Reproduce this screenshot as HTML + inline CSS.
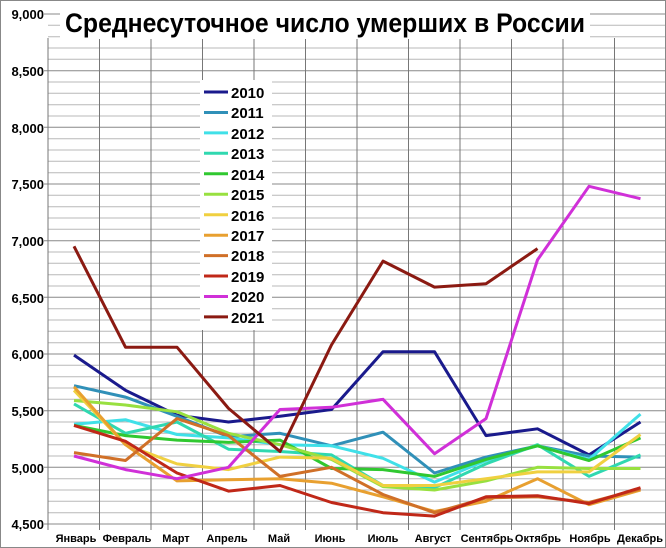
<!DOCTYPE html>
<html><head><meta charset="utf-8"><style>
html,body{margin:0;padding:0;background:#fff;}
svg{display:block;font-family:"Liberation Sans",Arial,sans-serif;}
</style></head><body>
<svg id="c" width="666" height="548" viewBox="0 0 666 548" xmlns="http://www.w3.org/2000/svg">
<rect x="0" y="0" width="666" height="548" fill="#fff"/>
<g id="grid"></g>
<rect x="60" y="3" width="530" height="36" fill="#fff"/>
<text x="65" y="32" font-size="27" font-weight="bold" textLength="520" lengthAdjust="spacingAndGlyphs" fill="#000">Среднесуточное число умерших в России</text>
<g font-size="13" font-weight="bold" text-anchor="end" fill="#000">
<text x="44" y="19">9,000</text><text x="44" y="76">8,500</text><text x="44" y="133">8,000</text>
<text x="44" y="189">7,500</text><text x="44" y="246">7,000</text><text x="44" y="303">6,500</text>
<text x="44" y="359">6,000</text><text x="44" y="416">5,500</text><text x="44" y="473">5,000</text>
<text x="44" y="529">4,500</text>
</g>
<g font-size="11" font-weight="bold" text-anchor="middle" fill="#000">
<text x="76" y="542">Январь</text><text x="127" y="542">Февраль</text><text x="176" y="542">Март</text>
<text x="227" y="542">Апрель</text><text x="279" y="542">Май</text><text x="330" y="542">Июнь</text>
<text x="383" y="542">Июль</text><text x="433" y="542">Август</text><text x="487" y="542">Сентябрь</text>
<text x="538" y="542">Октябрь</text><text x="590" y="542">Ноябрь</text><text x="640" y="542">Декабрь</text>
</g>
<g id="series" fill="none" stroke-width="3" stroke-linejoin="round"></g>
<rect x="200" y="80" width="72" height="250" fill="#fff"/>
<g id="leg" font-size="15" font-weight="bold" fill="#000">
<text x="231" y="98">2010</text><text x="231" y="118">2011</text><text x="231" y="139">2012</text>
<text x="231" y="159">2013</text><text x="231" y="180">2014</text><text x="231" y="200">2015</text>
<text x="231" y="221">2016</text><text x="231" y="241">2017</text><text x="231" y="261">2018</text>
<text x="231" y="282">2019</text><text x="231" y="302">2020</text><text x="231" y="323">2021</text>
</g>
<rect x="0.5" y="0.5" width="665" height="547" fill="none" stroke="#888" stroke-width="1"/>
</svg>
<script>
function Y(v){return 14+(9000-v)/4500*510;}
function X(i){return 74+51.5*i;}
var g=document.getElementById('grid'),h='';
for(var v=4500;v<=9000;v+=100){var y=Y(v).toFixed(1);var major=(v%500==0);
h+='<line x1="'+(major?44:48)+'" x2="666" y1="'+y+'" y2="'+y+'" stroke="'+(major?'#888':'#b8b8b8')+'" stroke-width="1"/>';}
for(var i=0;i<=12;i++){var x=(48+51.5*i).toFixed(1);h+='<line x1="'+x+'" x2="'+x+'" y1="38" y2="530" stroke="#777" stroke-width="1"/>';}
g.innerHTML=h;
var S=[
["#1a1a8c",[5990,5680,5460,5400,5450,5510,6020,6020,5280,5340,5110,5400]],
["#3090b8",[5720,5620,5450,5270,5300,5190,5310,4950,5090,5190,5100,5090]],
["#40e0e8",[5380,5420,5290,5260,5200,5190,5080,4870,5060,5190,5070,5470]],
["#30d8b0",[5560,5300,5400,5160,5140,5110,4840,4820,5030,5200,4920,5110]],
["#30c830",[5370,5280,5240,5220,5240,4990,4980,4920,5070,5190,5060,5260]],
["#98e040",[5590,5550,5490,5300,5200,5070,4830,4800,4880,5000,4990,4990]],
["#f0d040",[5680,5200,5030,4980,5090,5080,4840,4840,4900,4960,4960,5290]],
["#e8a030",[5710,5200,4880,4890,4900,4860,4740,4610,4700,4900,4670,4800]],
["#d07028",[5130,5060,5430,5280,4920,5000,4760,4600,4730,4740,4690,4810]],
["#c02818",[5370,5230,4950,4790,4840,4690,4600,4570,4740,4750,4680,4820]],
["#d030d8",[5100,4980,4900,5000,5510,5530,5600,5120,5430,6830,7480,7370]],
["#8b1a12",[6950,6060,6060,5520,5140,6080,6820,6590,6620,6930]]];
var s='',l='';
S.forEach(function(a,k){var p=a[1].map(function(v,i){return X(i).toFixed(1)+','+Y(v).toFixed(1);}).join(' ');
s+='<polyline points="'+p+'" stroke="'+a[0]+'"/>';
var ly=(92+20.45*k).toFixed(1);l+='<line x1="204" x2="228" y1="'+ly+'" y2="'+ly+'" stroke="'+a[0]+'" stroke-width="3"/>';});
document.getElementById('series').innerHTML=s;
document.getElementById('leg').insertAdjacentHTML('beforeend',l);
</script>
</body></html>
